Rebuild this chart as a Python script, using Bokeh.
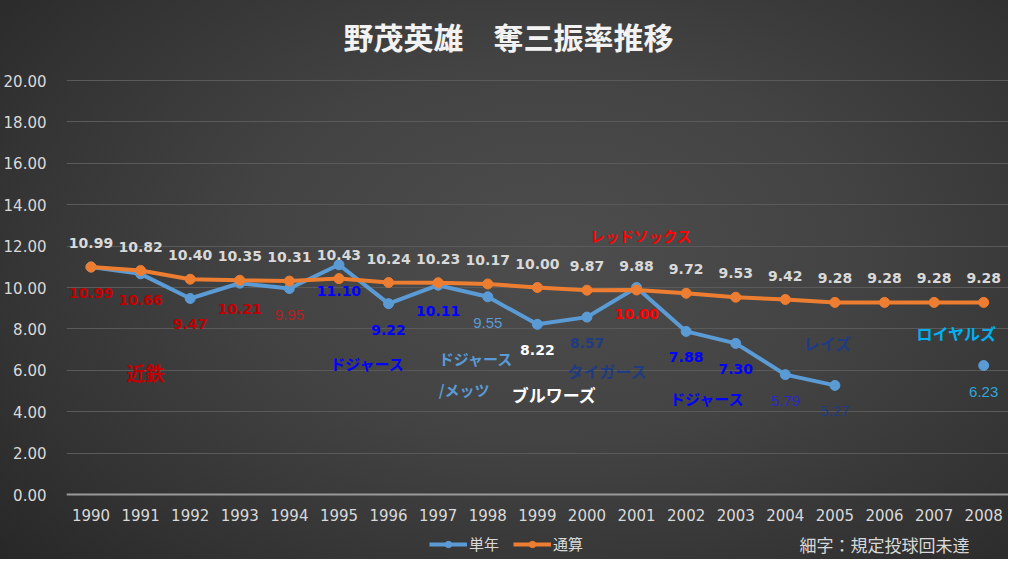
import math
from bokeh.plotting import figure
from bokeh.models import (ColumnDataSource, FixedTicker, Label, Legend, LegendItem,
                          Range1d, NumeralTickFormatter)
from bokeh.core.properties import value
from bokeh.embed import file_html
from bokeh.resources import INLINE

NAN = float("nan")

# ---------------- data ----------------
title_text = "野茂英雄\u3000奪三振率推移"
years = [1990, 1991, 1992, 1993, 1994, 1995, 1996, 1997, 1998, 1999,
         2000, 2001, 2002, 2003, 2004, 2005, 2006, 2007, 2008]
single_year = [10.99, 10.66, 9.47, 10.21, 9.95, 11.10, 9.22, 10.11, 9.55, 8.22,
               8.57, 10.00, 7.88, 7.30, 5.79, 5.27, NAN, NAN, 6.23]
cumulative = [10.99, 10.82, 10.40, 10.35, 10.31, 10.43, 10.24, 10.23, 10.17, 10.00,
              9.87, 9.88, 9.72, 9.53, 9.42, 9.28, 9.28, 9.28, 9.28]
# bold label = qualified innings; thin = not qualified
qualified = [True, True, True, True, False, True, True, True, False, True,
             True, True, True, True, False, False, None, None, False]
y_ticks = [0, 2, 4, 6, 8, 10, 12, 14, 16, 18, 20]
series_names = ["単年", "通算"]
footnote = "細字：規定投球回未達"
teams = ["近鉄", "ドジャース", "ドジャース", "/メッツ", "ブルワーズ", "タイガース",
         "レッドソックス", "ドジャース", "レイズ", "ロイヤルズ"]

# ---------------- styles / annotation anchors ----------------
single_label_colors = ["#c00000", "#c00000", "#c00000", "#c00000", "#b52020",
                       "#0000ff", "#0000ff", "#0000ff", "#5b9bd5", "#ffffff",
                       "#1f3c80", "#ff0000", "#0000ff", "#0000ff", "#2a2ac8",
                       "#1f3c80", None, None, "#2fa6da"]
team_x = [1991.10, 1995.58, 1997.01, 1997.01, 1999.34, 2000.41, 2001.09, 2002.43, 2004.85, 2007.45]
team_y = [5.91, 6.35, 6.59, 5.07, 4.83, 5.99, 12.51, 4.66, 7.32, 7.78]
team_align = ["center", "center", "left", "left", "center", "center", "center", "center", "center", "center"]
team_colors = ["#c00000", "#0000ff", "#5b9bd5", "#5b9bd5", "#ffffff", "#1f3c80",
               "#ff0000", "#0000ff", "#1f3c80", "#00b0f0"]
team_sizes = ["19px", "15px", "15px", "15px", "17px", "16px", "14.5px", "15px", "16px", "16px"]

BLUE = "#5b9bd5"
ORANGE = "#ed7d31"
AXIS_TEXT = "#d9d9d9"
JP = "Noto Sans CJK JP"
NUM = "DejaVu Sans"

W, H = 1008, 559
p = figure(width=W, height=H,
           x_range=Range1d(1989.506, 2008.50), y_range=Range1d(-3.140, 23.865),
           output_backend="svg", toolbar_location=None, min_border=0)
p.min_border_left = 66
p.min_border_right = 0
p.border_fill_color = None
p.background_fill_color = None
p.outline_line_color = None
p.styles = {"background": "radial-gradient(ellipse 75% 85% at 55% 45%, #4d4d4d 0%, #434343 40%, #333333 75%, #262626 100%)"}

# axes
p.xaxis.ticker = FixedTicker(ticks=years)
p.xaxis.fixed_location = 0
p.yaxis.ticker = FixedTicker(ticks=y_ticks)
p.yaxis.formatter = NumeralTickFormatter(format="0.00")
for ax in (p.xaxis[0], p.yaxis[0]):
    ax.major_tick_line_color = None
    ax.minor_tick_line_color = None
    ax.major_tick_in = 0
    ax.major_tick_out = 0
    ax.minor_tick_out = 0
    ax.major_label_text_color = AXIS_TEXT
    ax.major_label_text_font = NUM
    ax.major_label_text_font_size = "15px"
p.yaxis.axis_line_color = None
p.yaxis.major_label_standoff = 20
p.xaxis.axis_line_color = "#9a9a9a"
p.xaxis.axis_line_width = 2
p.xaxis.major_label_standoff = 14
p.xgrid.grid_line_color = None
p.ygrid.grid_line_color = "#5a5a5a"
p.ygrid.grid_line_width = 1

# series
src = ColumnDataSource(dict(x=years, s=single_year, c=cumulative))
bl = p.line("x", "s", source=src, line_color=BLUE, line_width=4)
bm = p.scatter("x", "s", source=src, size=10, fill_color=BLUE, line_color=BLUE)
ol = p.line("x", "c", source=src, line_color=ORANGE, line_width=4)
om = p.scatter("x", "c", source=src, size=10, fill_color=ORANGE, line_color=ORANGE)

# cumulative labels (above)
p.text(x=years, y=cumulative, text=[f"{v:.2f}" for v in cumulative],
       text_align="center", text_baseline="middle", y_offset=-24,
       text_color=AXIS_TEXT, text_font=value(NUM), text_font_style="bold",
       text_font_size="14px")

# single-year labels (below)
def subset(flag):
    idx = [i for i, v in enumerate(single_year) if not math.isnan(v) and qualified[i] == flag]
    return dict(x=[years[i] for i in idx], y=[single_year[i] for i in idx],
                t=[f"{single_year[i]:.2f}" for i in idx],
                col=[single_label_colors[i] for i in idx])

p.text("x", "y", text="t", source=ColumnDataSource(subset(True)),
       text_align="center", text_baseline="middle", y_offset=26,
       text_color="col", text_font=value(NUM), text_font_style="bold", text_font_size="14px")
p.text("x", "y", text="t", source=ColumnDataSource(subset(False)),
       text_align="center", text_baseline="middle", y_offset=26,
       text_color="col", text_font=value("Liberation Sans"), text_font_style="normal",
       text_font_size="15px")

# team labels
p.text("x", "y", text="t", source=ColumnDataSource(dict(x=team_x, y=team_y, t=teams,
                                                         col=team_colors, al=team_align,
                                                         fs=team_sizes)),
       text_align="al", text_baseline="middle", text_color="col",
       text_font=value(JP), text_font_style="bold", text_font_size="fs")

# title (frame covers the whole figure height; screen units from frame bottom-left)
p.add_layout(Label(x=442, y=H - 35, x_units="screen", y_units="screen", text=title_text,
                   text_align="center", text_baseline="middle", text_color="#f2f2f2",
                   text_font=JP, text_font_style="bold", text_font_size="30px"))

# footnote
p.add_layout(Label(x=733, y=H - 544, x_units="screen", y_units="screen", text=footnote,
                   text_align="left", text_baseline="middle", text_color=AXIS_TEXT,
                   text_font=JP, text_font_size="17px"))

# legend
legend = Legend(items=[LegendItem(label=series_names[0], renderers=[bl, bm]),
                       LegendItem(label=series_names[1], renderers=[ol, om])],
                orientation="horizontal", location=(363, 5),
                background_fill_alpha=0, border_line_alpha=0,
                label_text_color=AXIS_TEXT, label_text_font=JP, label_text_font_size="15px",
                glyph_width=38, glyph_height=16, spacing=14, padding=0, margin=0,
                label_standoff=2)
p.add_layout(legend)

open("out.html", "w").write(file_html(p, INLINE))
